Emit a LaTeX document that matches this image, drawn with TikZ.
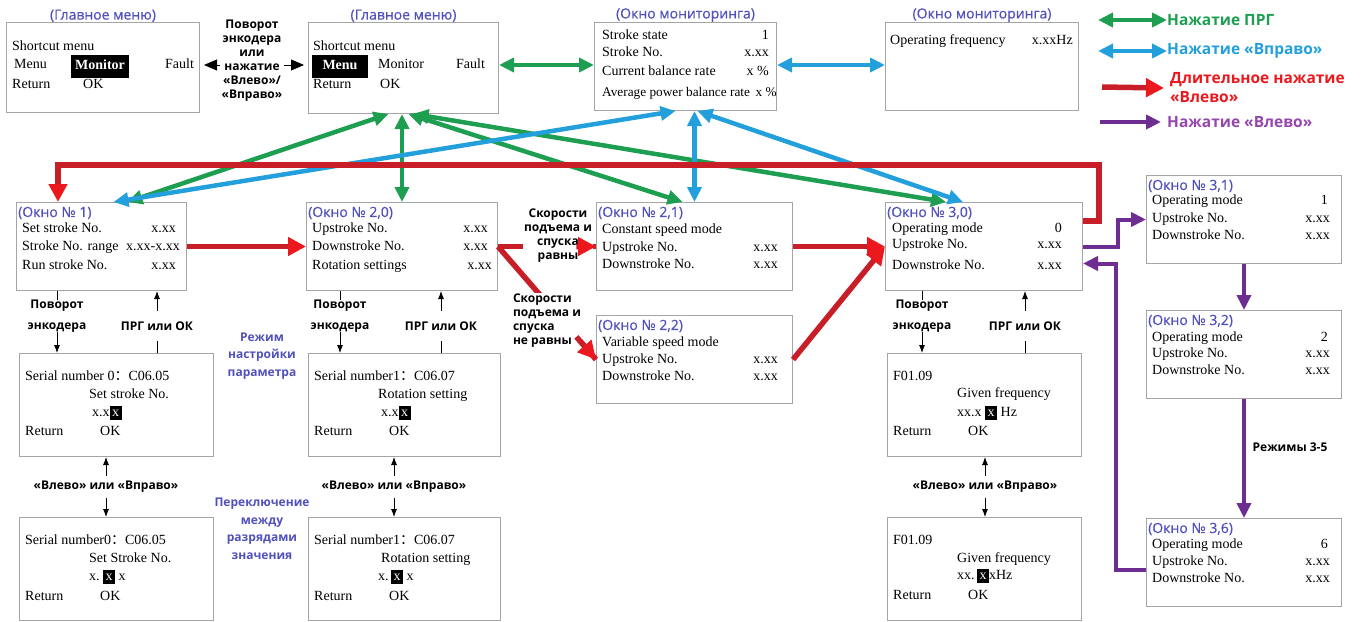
\documentclass[tikz,border=0pt]{standalone}
\usepackage{fontspec}
\setmainfont{Liberation Serif}
\newfontfamily\labelfont{Open Sans}
\newfontfamily\titlefont[FakeBold=0.6]{Open Sans}
\newfontfamily\cjk{Noto Sans CJK SC}
\usetikzlibrary{arrows.meta,calc}

\definecolor{titleblue}{RGB}{80,80,190}
\definecolor{prggreen}{RGB}{30,158,80}
\definecolor{rightblue}{RGB}{35,160,220}
\definecolor{longred}{RGB}{200,30,40}
\definecolor{tipred}{RGB}{235,25,30}
\definecolor{leftpurple}{RGB}{110,45,145}
\definecolor{legpurple}{RGB}{150,70,175}
\definecolor{framegray}{RGB}{165,165,165}

\newcommand{\fcolon}{{\cjk ：}}
\newcommand{\selx}{{\setlength{\fboxsep}{1.5pt}\colorbox{black}{\textcolor{white}{\makebox[9pt]{\rule[-2pt]{0pt}{11pt}x}}}}}

\begin{document}
\begin{tikzpicture}[x=1pt,y=-1pt]
\tikzset{ >={Latex[length=8pt,width=6pt]},
  box/.style={draw=framegray, line width=1pt, anchor=north west, inner sep=0pt},
  ttl/.style={font=\titlefont\fontsize{14}{16}\selectfont, text=titleblue, inner sep=0pt, anchor=west},
  txt/.style={font=\fontsize{14}{16}\selectfont, inner sep=0pt, anchor=west, text height=9.5pt, text depth=3pt},
  val/.style={txt, anchor=east},
  hl/.style={txt, fill=black, text=white, font=\bfseries\fontsize{14}{16}\selectfont, anchor=center},
  lbl/.style={font=\labelfont\bfseries\fontsize{12}{14}\selectfont, align=center, inner sep=0pt},
  note/.style={lbl, text=titleblue, font=\labelfont\bfseries\fontsize{12}{17.5}\selectfont},
  lgd/.style={font=\labelfont\bfseries\fontsize{15.5}{19}\selectfont, align=left, anchor=west, inner sep=0pt},
  kb/.style={black, line width=0.8pt},
  bigkb/.style={kb, -{Triangle[length=13pt,width=11pt]}, shorten >=4pt},
  gn/.style={draw=prggreen, line width=4.5pt, {Triangle[length=15pt,width=14pt]}-{Triangle[length=15pt,width=14pt]}},
  bl/.style={gn, draw=rightblue},
  rd/.style={draw=longred, line width=5.5pt},
  rdtip/.style={rd, -{Triangle[length=18pt,width=18pt,color=tipred]}},
  pp/.style={draw=leftpurple, line width=4pt, -{Triangle[length=15pt,width=14pt]}},
}

\useasboundingbox (0,0) rectangle (1362,621);
%\draw [lightgray, dashed](0,0) grid[step=50] (1362,621);

% main menu and monitor windows
\node[box, minimum width=193, minimum height=90] (MA) at (6,22) {};
\node[box, minimum width=190, minimum height=91] (MB) at (308,22) {};
\node[box, minimum width=182, minimum height=88] (MC) at (594,22) {};
\node[box, minimum width=193, minimum height=88] (MD) at (885,22) {};

\node[ttl, anchor=south] (MAt) at (MA.north) {(Главное меню)};
\node[ttl, anchor=south] (MBt) at (MB.north) {(Главное меню)};
\node[ttl, anchor=south] (MCt) at (MC.north) {(Окно мониторинга)};
\node[ttl, anchor=south] (MDt) at (MD.north) {(Окно мониторинга)};

\node[txt] (MA1) at (12,47) {Shortcut menu};
\node[txt] (MA2) at (14,65) {Menu};
\node[hl, minimum width=58, minimum height=23] (MA3) at (100,66.5) {Monitor};
\node[txt] (MA4) at (165,65) {Fault};
\node[txt] (MA5) at (12,85) {Return};
\node[txt] (MA6) at (83,85) {OK};

\node[txt] (MB1) at (313,47) {Shortcut menu};
\node[hl, minimum width=56, minimum height=23] (MB2) at (340,66.5) {Menu};
\node[txt] (MB3) at (378,65) {Monitor};
\node[txt] (MB4) at (456,65) {Fault};
\node[txt] (MB5) at (313,85) {Return};
\node[txt] (MB6) at (380,85) {OK};

\node[txt] (MC1) at (602,36) {Stroke state};          \node[val] (MC1v) at (769,36) {1};
\node[txt] (MC2) at (602,53) {Stroke No.};            \node[val] (MC2v) at (769,53) {x.xx};
\node[txt] (MC3) at (602,72) {Current balance rate};  \node[val] (MC3v) at (769,72) {x \%};
\node[txt, font=\fontsize{13.3}{16}\selectfont] (MC4) at (602,93) {Average power balance rate\, x \%};

\node[txt] (MD1) at (890,41) {Operating frequency};   \node[val] (MD1v) at (1073,41) {x.xxHz};

% setting windows
\node[box, minimum width=170, minimum height=88] (W1) at (16,202) {};
\node[box, minimum width=191, minimum height=88] (W20) at (306,202) {};
\node[box, minimum width=196, minimum height=88] (W21) at (596,202) {};
\node[box, minimum width=196, minimum height=88] (W22) at (596,315) {};
\node[box, minimum width=197, minimum height=88] (W30) at (885,202) {};
\node[box, minimum width=195, minimum height=88] (W31) at (1146,175) {};
\node[box, minimum width=195, minimum height=88] (W32) at (1146,310) {};
\node[box, minimum width=195, minimum height=88] (W36) at (1146,518) {};

\node[ttl] (W1t) at (18,213) {(Окно № 1)};
\node[txt] (W1a) at (22,229) {Set stroke No.};       \node[val] (W1av) at (176,229) {x.xx};
\node[txt] (W1b) at (22,247) {Stroke No. range};     \node[val] (W1bv) at (180,247) {x.xx-x.xx};
\node[txt] (W1c) at (22,266) {Run stroke No.};       \node[val] (W1cv) at (176,266) {x.xx};

\node[ttl] (W20t) at (308,213) {(Окно № 2,0)};
\node[txt] (W20a) at (312,229) {Upstroke No.};       \node[val] (W20av) at (488,229) {x.xx};
\node[txt] (W20b) at (312,247) {Downstroke No.};     \node[val] (W20bv) at (488,247) {x.xx};
\node[txt] (W20c) at (312,266) {Rotation settings};  \node[val] (W20cv) at (492,266) {x.xx};

\node[ttl] (W21t) at (598,213) {(Окно № 2,1)};
\node[txt] (W21a) at (602,230) {Constant speed mode};
\node[txt] (W21b) at (602,248) {Upstroke No.};       \node[val] (W21bv) at (778,248) {x.xx};
\node[txt] (W21c) at (602,265) {Downstroke No.};     \node[val] (W21cv) at (778,265) {x.xx};

\node[ttl] (W22t) at (598,326) {(Окно № 2,2)};
\node[txt] (W22a) at (602,343) {Variable speed mode};
\node[txt] (W22b) at (602,360) {Upstroke No.};       \node[val] (W22bv) at (778,360) {x.xx};
\node[txt] (W22c) at (602,377) {Downstroke No.};     \node[val] (W22cv) at (778,377) {x.xx};

\node[ttl] (W30t) at (887,213) {(Окно № 3,0)};
\node[txt] (W30a) at (892,229) {Operating mode};     \node[val] (W30av) at (1062,229) {0};
\node[txt] (W30b) at (892,245) {Upstroke No.};       \node[val] (W30bv) at (1062,245) {x.xx};
\node[txt] (W30c) at (892,266) {Downstroke No.};     \node[val] (W30cv) at (1062,266) {x.xx};

\node[ttl] (W31t) at (1148,186) {(Окно № 3,1)};
\node[txt] (W31a) at (1152,201) {Operating mode};    \node[val] (W31av) at (1328,201) {1};
\node[txt] (W31b) at (1152,219) {Upstroke No.};      \node[val] (W31bv) at (1330,219) {x.xx};
\node[txt] (W31c) at (1152,236) {Downstroke No.};    \node[val] (W31cv) at (1330,236) {x.xx};

\node[ttl] (W32t) at (1148,321) {(Окно № 3,2)};
\node[txt] (W32a) at (1152,338) {Operating mode};    \node[val] (W32av) at (1328,338) {2};
\node[txt] (W32b) at (1152,354) {Upstroke No.};      \node[val] (W32bv) at (1330,354) {x.xx};
\node[txt] (W32c) at (1152,371) {Downstroke No.};    \node[val] (W32cv) at (1330,371) {x.xx};

\node[ttl] (W36t) at (1148,529) {(Окно № 3,6)};
\node[txt] (W36a) at (1152,545) {Operating mode};    \node[val] (W36av) at (1328,545) {6};
\node[txt] (W36b) at (1152,562) {Upstroke No.};      \node[val] (W36bv) at (1330,562) {x.xx};
\node[txt] (W36c) at (1152,579) {Downstroke No.};    \node[val] (W36cv) at (1330,579) {x.xx};

% parameter windows
\node[box, minimum width=194, minimum height=103] (P1) at (19,353) {};
\node[box, minimum width=192, minimum height=103] (P2) at (308,353) {};
\node[box, minimum width=194, minimum height=103] (P3) at (887,353) {};
\node[box, minimum width=194, minimum height=103] (Q1) at (19,517) {};
\node[box, minimum width=192, minimum height=103] (Q2) at (308,517) {};
\node[box, minimum width=194, minimum height=103] (Q3) at (887,517) {};

\node[txt] (P1a) at (25,377) {Serial number 0\fcolon C06.05};
\node[txt] (P1b) at (89,395) {Set stroke No.};
\node[txt] (P1c) at (92,413) {x.x\selx};
\node[txt] (P1d) at (25,432) {Return};
\node[txt] (P1e) at (100,432) {OK};

\node[txt] (P2a) at (314,377) {Serial number1\fcolon C06.07};
\node[txt] (P2b) at (378,395) {Rotation setting};
\node[txt] (P2c) at (381,413) {x.x\selx};
\node[txt] (P2d) at (314,432) {Return};
\node[txt] (P2e) at (389,432) {OK};

\node[txt] (P3a) at (893,377) {F01.09};
\node[txt] (P3b) at (957,394) {Given frequency};
\node[txt] (P3c) at (957,413) {xx.x \selx{} Hz};
\node[txt] (P3d) at (893,432) {Return};
\node[txt] (P3e) at (968,432) {OK};

\node[txt] (Q1a) at (25,541) {Serial number0\fcolon C06.05};
\node[txt] (Q1b) at (89,559) {Set Stroke No.};
\node[txt] (Q1c) at (89,577) {x.\ \selx{} x};
\node[txt] (Q1d) at (25,597) {Return};
\node[txt] (Q1e) at (100,597) {OK};

\node[txt] (Q2a) at (314,541) {Serial number1\fcolon C06.07};
\node[txt] (Q2b) at (381,559) {Rotation setting};
\node[txt] (Q2c) at (378,577) {x.\,\selx{} x};
\node[txt] (Q2d) at (314,597) {Return};
\node[txt] (Q2e) at (389,597) {OK};

\node[txt] (Q3a) at (893,541) {F01.09};
\node[txt] (Q3b) at (957,559) {Given frequency};
\node[txt] (Q3c) at (957,576) {xx.\,\selx{}xHz};
\node[txt] (Q3d) at (893,596) {Return};
\node[txt] (Q3e) at (968,596) {OK};

% black labels and arrows
\node[lbl] (E1) at (252,61) {Поворот\\энкодера\\или\\нажатие\\«Влево»/\\«Вправо»};
\coordinate (EA) at (220,65);
\coordinate (EB) at (284,65);
\draw[bigkb] (EA) -- (MA.east |- EA);
\draw[bigkb] (EB) -- (MB.west |- EB);

\node[lbl, font=\labelfont\bfseries\fontsize{12}{21}\selectfont] (R1) at (57,316) {Поворот\\энкодера};
\node[lbl, font=\labelfont\bfseries\fontsize{12}{21}\selectfont] (R2) at (340,316) {Поворот\\энкодера};
\node[lbl, font=\labelfont\bfseries\fontsize{12}{21}\selectfont] (R3) at (922,316) {Поворот\\энкодера};
\node[lbl, minimum height=30] (K1) at (157,326) {ПРГ или ОК};
\node[lbl, minimum height=30] (K2) at (441,326) {ПРГ или ОК};
\node[lbl, minimum height=30] (K3) at (1025,326) {ПРГ или ОК};
\node[lbl, minimum height=22] (L1) at (106,487) {«Влево» или «Вправо»};
\node[lbl, minimum height=22] (L2) at (394,487) {«Влево» или «Вправо»};
\node[lbl, minimum height=22] (L3) at (985,487) {«Влево» или «Вправо»};

\draw[kb] (W1.south -| R1) -- (R1.north);   \draw[kb,->] (R1.south) -- (P1.north -| R1);
\draw[kb] (W20.south -| R2) -- (R2.north);  \draw[kb,->] (R2.south) -- (P2.north -| R2);
\draw[kb] (W30.south -| R3) -- (R3.north);  \draw[kb,->] (R3.south) -- (P3.north -| R3);
\draw[kb] (P1.north -| K1) -- (K1.south);   \draw[kb,->] (K1.north) -- (W1.south -| K1);
\draw[kb] (P2.north -| K2) -- (K2.south);   \draw[kb,->] (K2.north) -- (W20.south -| K2);
\draw[kb] (P3.north -| K3) -- (K3.south);   \draw[kb,->] (K3.north) -- (W30.south -| K3);
\draw[kb,->] (L1.north) -- (P1.south -| L1); \draw[kb,->] (L1.south) -- (Q1.north -| L1);
\draw[kb,->] (L2.north) -- (P2.south -| L2); \draw[kb,->] (L2.south) -- (Q2.north -| L2);
\draw[kb,->] (L3.north) -- (P3.south -| L3); \draw[kb,->] (L3.south) -- (Q3.north -| L3);

\node[note] (N1) at (262,356) {Режим\\настройки\\параметра};
\node[note] (N2) at (262,529) {Переключение\\между\\разрядами\\значения};
\node[lbl] (N3) at (1290,447) {Режимы 3-5};

% green and blue connections
\draw[gn] (MB.east |- EA) -- (MC.west |- EA);
\draw[bl] (MC.east |- EA) -- (MD.west |- EA);
\draw[gn] ($(MB.south)+(-15,0)$) -- ($(W1.north)+(26,0)$);
\draw[gn] (W20.north |- MB.south) -- (W20.north);
\draw[gn] ($(MB.south)+(5,0)$) -- ($(W21.north)+(-12,0)$);
\draw[gn] ($(MB.south)+(10,0)$) -- ($(W30.north)+(-38,0)$);
\draw[bl] ($(MC.south)+(-10,0)$) -- ($(W1.north)+(12,0)$);
\draw[bl] (W21.north |- MC.south) -- (W21.north);
\draw[bl] ($(MC.south)+(12,0)$) -- ($(W30.north)+(-21,0)$);

% red connections
\draw[rdtip] (W1.east) -- (W20.west);
\draw[rd] (W20.east) -- (W21.west);
\draw[rd] (W20.east) -- (W22.west);
\node[lbl, fill=white, inner sep=1pt] (S1) at (558,236) {Скорости\\подъема и\\спуска\\равны};
\node[lbl, fill=white, inner sep=1pt, align=left] (S2) at (547,321) {Скорости\\подъема и\\спуска\\не равны};
\draw[rdtip] ($(W20.east)!0.8!(W21.west)$) -- (W21.west);
\draw[rdtip] ($(W20.east)!0.8!(W22.west)$) -- (W22.west);
\draw[rdtip] (W21.east) -- (W30.west);
\draw[rdtip] (W22.east) -- (W30.west);
\draw[rdtip] ($(W30.north east)+(0,19)$) -- ++(16,0) |- ($(W1.north west)+(42,-37)$) -- ($(W1.north west)+(42,0)$);

% purple connections
\draw[pp] (W30.east) -- ++(35,0) |- (W31.west);
\draw[pp] (W31.south) -- (W32.north);
\draw[pp] (W32.south) -- (W36.north);
\draw[pp] ($(W36.west)+(0,7)$) -- ++(-30,0) |- ($(W30.east)+(0,17)$);

% legend
\coordinate (G1) at (1098,20);
\coordinate (G2) at (1098,51);
\coordinate (G3) at (1102,87);
\coordinate (G4) at (1100,122);
\node[lgd, text=prggreen] (LG1) at (1167,20) {Нажатие ПРГ};
\node[lgd, text=rightblue] (LG2) at (1167,51) {Нажатие «Вправо»};
\node[lgd, text=tipred] (LG3) at (1170,88) {Длительное нажатие\\«Влево»};
\node[lgd, text=legpurple] (LG4) at (1167,122) {Нажатие «Влево»};
\draw[gn] (G1) -- (LG1.west);
\draw[bl] (G2) -- (LG2.west);
\draw[rdtip] (G3) -- ($(LG3.west)+(-6,0)$);
\draw[pp] (G4) -- ($(LG4.west)+(-6,0)$);
\end{tikzpicture}
\end{document}
